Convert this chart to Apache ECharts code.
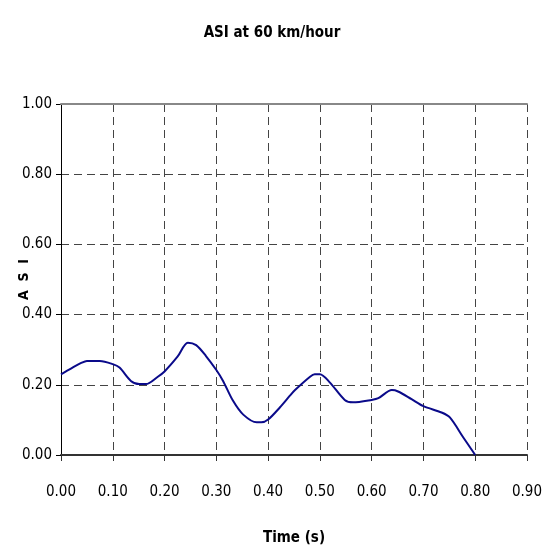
<!DOCTYPE html>
<html>
<head>
<meta charset="utf-8">
<script src="https://cdn.jsdelivr.net/npm/echarts@6/dist/echarts.min.js"></script>
<style>
html,body{margin:0;padding:0;background:#fff;}
#chart{width:544px;height:552px;}
</style>
</head>
<body>
<div id="chart"></div>
<script>
var titleText = 'ASI at 60 km/hour';
var xName = 'Time (s)';
var yName = 'A  S  I';
var time = [0, 0.02, 0.04, 0.05, 0.075, 0.10, 0.113, 0.135, 0.151, 0.164, 0.187, 0.20, 0.225, 0.245, 0.261, 0.28, 0.30, 0.313, 0.332, 0.352, 0.378, 0.387, 0.40, 0.423, 0.442, 0.452, 0.481, 0.49, 0.50, 0.519, 0.548, 0.564, 0.60, 0.613, 0.639, 0.651, 0.677, 0.70, 0.735, 0.751, 0.777, 0.80];
var asi = [0.230, 0.247, 0.263, 0.268, 0.268, 0.259, 0.249, 0.211, 0.202, 0.202, 0.223, 0.238, 0.280, 0.320, 0.313, 0.282, 0.242, 0.211, 0.155, 0.115, 0.093, 0.093, 0.101, 0.136, 0.169, 0.185, 0.223, 0.230, 0.230, 0.207, 0.157, 0.150, 0.157, 0.162, 0.185, 0.181, 0.159, 0.139, 0.121, 0.107, 0.050, 0.0];

var FONT = '"Liberation Sans Narrow", "Arial Narrow", "DejaVu Sans Condensed", sans-serif';
var pts = time.map(function (t, i) { return [t, asi[i]]; });

var chart = echarts.init(document.getElementById('chart'), null, {renderer: 'canvas'});
chart.setOption({
  animation: false,
  backgroundColor: '#fff',
  title: {
    text: titleText,
    left: 'center',
    top: 21,
    textStyle: {fontFamily: FONT, fontWeight: 'bold', fontSize: 15, color: '#000'}
  },
  grid: {left: 61, right: 17, top: 104, bottom: 97, containLabel: false, outerBoundsMode: 'none'},
  xAxis: [{
    type: 'value',
    min: 0, max: 0.9, interval: 0.1,
    name: xName,
    nameLocation: 'middle',
    nameGap: 76,
    nameMoveOverlap: false,
    nameTextStyle: {fontFamily: FONT, fontWeight: 'bold', fontSize: 15, color: '#000'},
    axisLine: {show: true, onZero: false, lineStyle: {color: '#333', width: 2}},
    axisTick: {show: true, length: 6, lineStyle: {color: '#333'}},
    axisLabel: {margin: 30, fontFamily: FONT, fontSize: 15, color: '#000',
      formatter: function (v) { return v.toFixed(2); }},
    splitLine: {show: true, showMinLine: false, lineStyle: {color: '#444', type: [8, 5], width: 1}}
  }, {
    type: 'value', position: 'top',
    min: 0, max: 0.9, z: 5,
    axisLine: {show: true, onZero: false, lineStyle: {color: '#888', width: 2}},
    axisTick: {show: false}, axisLabel: {show: false}, splitLine: {show: false}
  }],
  yAxis: {
    type: 'value',
    min: 0, max: 1, interval: 0.2,
    name: yName,
    nameLocation: 'middle',
    nameGap: 30,
    nameMoveOverlap: false,
    nameRotate: 90,
    nameTextStyle: {fontFamily: FONT, fontWeight: 'bold', fontSize: 14, color: '#000'},
    axisLine: {show: true, lineStyle: {color: '#000', width: 1}},
    axisTick: {show: true, length: 5, lineStyle: {color: '#000'}},
    axisLabel: {margin: 9, fontFamily: FONT, fontSize: 15, color: '#000',
      formatter: function (v) { return v.toFixed(2); }},
    splitLine: {show: true, showMinLine: false, showMaxLine: false, lineStyle: {color: '#444', type: [8, 5], width: 1}}
  },
  series: [{
    type: 'line',
    data: pts,
    smooth: 0.3,
    showSymbol: false,
    lineStyle: {color: '#0a0a8a', width: 2}
  }]
});
</script>
</body>
</html>
